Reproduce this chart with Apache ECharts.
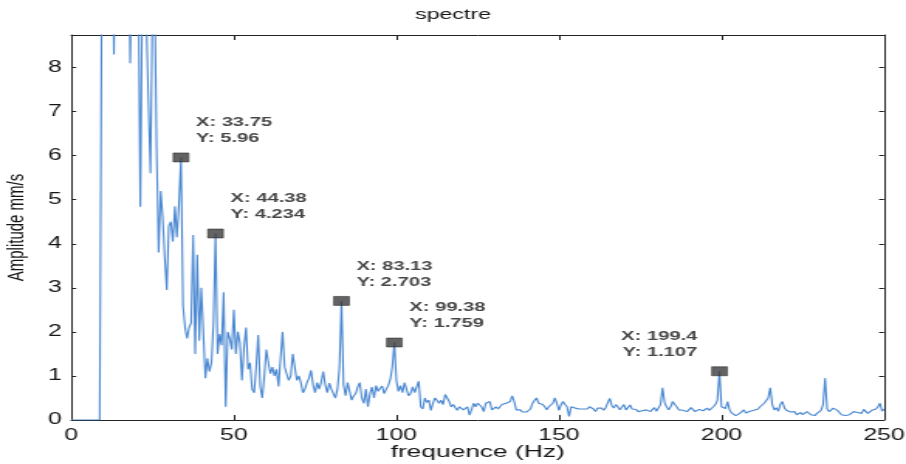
<!DOCTYPE html>
<html>
<head>
<meta charset="utf-8">
<title>spectre</title>
<script src="https://cdn.jsdelivr.net/npm/echarts@6/dist/echarts.min.js"></script>
<style>
  html, body { margin: 0; padding: 0; background: #ffffff; overflow: hidden; }
  #wrap { width: 906px; height: 464px; overflow: hidden; }
  /* the figure is drawn on a narrower canvas and widened to the page width */
  #chart { width: 585px; height: 464px; transform: scaleX(1.548718); transform-origin: 0 0; }
</style>
</head>
<body>
<div id="wrap"><div id="chart"></div></div>
<script>
// Amplitude spectrum (mm/s), one value every FREQ_STEP Hz from 0 to 250 Hz
const FREQ_STEP = 0.625;
const amplitude = [
  0, 0, 0, 0, 0, 0, 0, 0, 0, 0, 0, 0, 0, 0, 0, 0, 20, 24, 18, 15,
  12, 8.3, 13, 19, 22, 25, 21, 17, 12, 8.1, 11, 15, 13, 10, 4.84, 10, 11, 9, 7.2, 5.6,
  9.5, 9.8, 6.2, 3.8, 5.2, 4.6, 3.7, 2.95, 4.4, 4.5, 4.05, 4.85, 4.15, 4.9, 5.96, 2.6, 2.1, 1.85, 2.1, 2.2,
  4.2, 1.5, 3.75, 1.8, 3.0, 2.0, 0.95, 1.4, 1.1, 1.3, 2.2, 4.234, 1.5, 1.95, 1.7, 2.9, 0.3, 2.0, 1.85, 1.6,
  2.5, 1.5, 2.0, 1.75, 0.9, 1.65, 2.1, 1.15, 1.3, 0.7, 0.62, 1.2, 1.93, 0.76, 0.5, 1.0, 1.6, 1.3, 1.05, 1.2,
  1.0, 1.15, 0.76, 1.4, 2.0, 1.2, 1.05, 0.9, 1.0, 1.5, 1.2, 0.9, 1.0, 0.85, 0.62, 0.7, 0.85, 0.95, 1.13, 0.8,
  0.62, 0.85, 0.7, 0.85, 1.1, 0.8, 0.62, 0.84, 0.7, 0.68, 0.5, 0.7, 1.2, 2.703, 0.8, 0.55, 0.85, 0.65, 0.45, 0.55,
  0.6, 0.75, 0.85, 0.5, 0.38, 0.7, 0.3, 0.6, 0.75, 0.5, 0.78, 0.65, 0.72, 0.77, 0.6, 0.7, 0.78, 0.92, 1.2, 1.759,
  0.9, 0.65, 0.78, 0.62, 0.85, 0.82, 0.55, 0.6, 0.75, 0.62, 0.6, 0.88, 0.3, 0.25, 0.5, 0.4, 0.45, 0.22, 0.38, 0.5,
  0.45, 0.38, 0.45, 0.35, 0.58, 0.6, 0.42, 0.3, 0.35, 0.28, 0.22, 0.3, 0.27, 0.23, 0.27, 0.3, 0.11, 0.23, 0.38, 0.3,
  0.38, 0.34, 0.3, 0.19, 0.38, 0.42, 0.42, 0.23, 0.22, 0.3, 0.25, 0.28, 0.35, 0.38, 0.38, 0.4, 0.42, 0.55, 0.42, 0.23,
  0.22, 0.23, 0.18, 0.14, 0.18, 0.22, 0.25, 0.38, 0.45, 0.5, 0.38, 0.42, 0.35, 0.3, 0.23, 0.3, 0.32, 0.38, 0.5, 0.38,
  0.22, 0.34, 0.42, 0.35, 0.3, 0.08, 0.3, 0.28, 0.27, 0.26, 0.25, 0.23, 0.25, 0.22, 0.25, 0.3, 0.26, 0.25, 0.19, 0.27,
  0.3, 0.27, 0.22, 0.28, 0.3, 0.49, 0.33, 0.27, 0.35, 0.3, 0.23, 0.26, 0.35, 0.23, 0.27, 0.34, 0.25, 0.22, 0.24, 0.19,
  0.23, 0.21, 0.19, 0.23, 0.21, 0.19, 0.22, 0.28, 0.2, 0.24, 0.35, 0.73, 0.4, 0.3, 0.23, 0.3, 0.42, 0.35, 0.3, 0.23,
  0.19, 0.22, 0.23, 0.19, 0.21, 0.28, 0.26, 0.19, 0.23, 0.24, 0.28, 0.21, 0.19, 0.27, 0.22, 0.25, 0.3, 0.35, 0.45, 1.107,
  0.3, 0.33, 0.26, 0.42, 0.23, 0.16, 0.12, 0.1, 0.12, 0.15, 0.17, 0.23, 0.16, 0.18, 0.2, 0.19, 0.22, 0.2, 0.25, 0.3,
  0.3, 0.38, 0.35, 0.5, 0.73, 0.35, 0.23, 0.28, 0.2, 0.36, 0.42, 0.27, 0.22, 0.26, 0.18, 0.15, 0.19, 0.12, 0.15, 0.17,
  0.12, 0.15, 0.19, 0.15, 0.12, 0.1, 0.1, 0.15, 0.19, 0.22, 0.35, 0.95, 0.25, 0.19, 0.22, 0.27, 0.3, 0.22, 0.18, 0.12,
  0.1, 0.1, 0.08, 0.12, 0.16, 0.19, 0.15, 0.17, 0.19, 0.15, 0.24, 0.2, 0.15, 0.18, 0.22, 0.19, 0.25, 0.3, 0.38, 0.2,
  0.25
];

// Data tips on the main peaks
const peakFreq = [33.75, 44.38, 83.13, 99.38, 199.4];
const peakAmp = [5.96, 4.234, 2.703, 1.759, 1.107];

// Axis ticks
const xTicks = [0, 50, 100, 150, 200, 250];
const yTicks = [0, 1, 2, 3, 4, 5, 6, 7, 8];
const Y_TOP = 8.74;

const FONT = '"Liberation Sans", Arial, Helvetica, sans-serif';
const INK = '#161616';
const AXIS = '#222222';

const lineData = amplitude.map((a, i) => [i * FREQ_STEP, a]);

// the last data tip sits to the left of its peak, the others to the right
const tipData = peakFreq.map((f, k) => {
  const left = k === peakFreq.length - 1;
  return {
    value: [f, peakAmp[k]],
    label: {
      position: left ? [-9, -38] : [15, -38],
      align: left ? 'right' : 'left'
    }
  };
});

const xStep = xTicks[1] - xTicks[0];
const yStep = yTicks[1] - yTicks[0];

function xAxisDef(pos, labels) {
  return {
    type: 'value', position: pos,
    min: xTicks[0], max: xTicks[xTicks.length - 1], interval: xStep,
    axisLine: { show: true, onZero: false, lineStyle: { color: AXIS, width: 1 } },
    axisTick: { show: true, inside: true, length: 5, lineStyle: { color: AXIS } },
    axisLabel: { show: labels, margin: 8, color: INK, fontFamily: FONT, fontSize: 16 },
    splitLine: { show: false }
  };
}
function yAxisDef(pos, labels) {
  return {
    type: 'value', position: pos,
    min: yTicks[0], max: Y_TOP, interval: yStep,
    axisLine: { show: true, onZero: false, lineStyle: { color: AXIS, width: 1 } },
    axisTick: { show: true, inside: true, length: 3.2, lineStyle: { color: AXIS } },
    axisLabel: {
      show: labels, margin: 6, color: INK, fontFamily: FONT, fontSize: 16,
      formatter: v => (yTicks.indexOf(v) >= 0 ? String(v) : '')
    },
    splitLine: { show: false }
  };
}

const xBottom = Object.assign(xAxisDef('bottom', true), {
  name: 'frequence (Hz)', nameLocation: 'middle', nameGap: 24, nameMoveOverlap: false,
  nameTextStyle: { color: INK, fontFamily: FONT, fontSize: 17 }
});
const yLeft = Object.assign(yAxisDef('left', true), {
  name: 'Amplitude mm/s', nameLocation: 'middle', nameGap: 28,
  nameTextStyle: { color: INK, fontFamily: FONT, fontSize: 15 }
});

const chart = echarts.init(document.getElementById('chart'), null, { renderer: 'canvas' });
chart.setOption({
  animation: false,
  backgroundColor: '#ffffff',
  title: {
    text: 'spectre', left: 'center', top: 2,
    textStyle: { color: INK, fontFamily: FONT, fontSize: 15, fontWeight: 'normal' }
  },
  grid: { left: 46, right: 14.2, top: 35, bottom: 44, containLabel: false, outerBoundsMode: 'none' },
  xAxis: [xBottom, xAxisDef('top', false)],
  yAxis: [yLeft, yAxisDef('right', false)],
  series: [
    {
      type: 'line', xAxisIndex: 0, yAxisIndex: 0,
      data: lineData, showSymbol: false, clip: true,
      lineStyle: { color: '#4a88d2', width: 1.1 },
      emphasis: { disabled: true }
    },
    {
      type: 'scatter', xAxisIndex: 0, yAxisIndex: 0,
      data: tipData, symbol: 'rect', symbolSize: [10, 9],
      itemStyle: { color: '#3c3c3c', borderColor: '#1a1a1a', borderWidth: 0.6 },
      label: {
        show: true, verticalAlign: 'top', lineHeight: 16,
        color: INK, fontFamily: FONT, fontSize: 13, fontWeight: 'bold',
        formatter: p => 'X: ' + p.value[0] + '\nY: ' + p.value[1]
      },
      emphasis: { disabled: true },
      z: 5
    }
  ]
});
</script>
</body>
</html>
